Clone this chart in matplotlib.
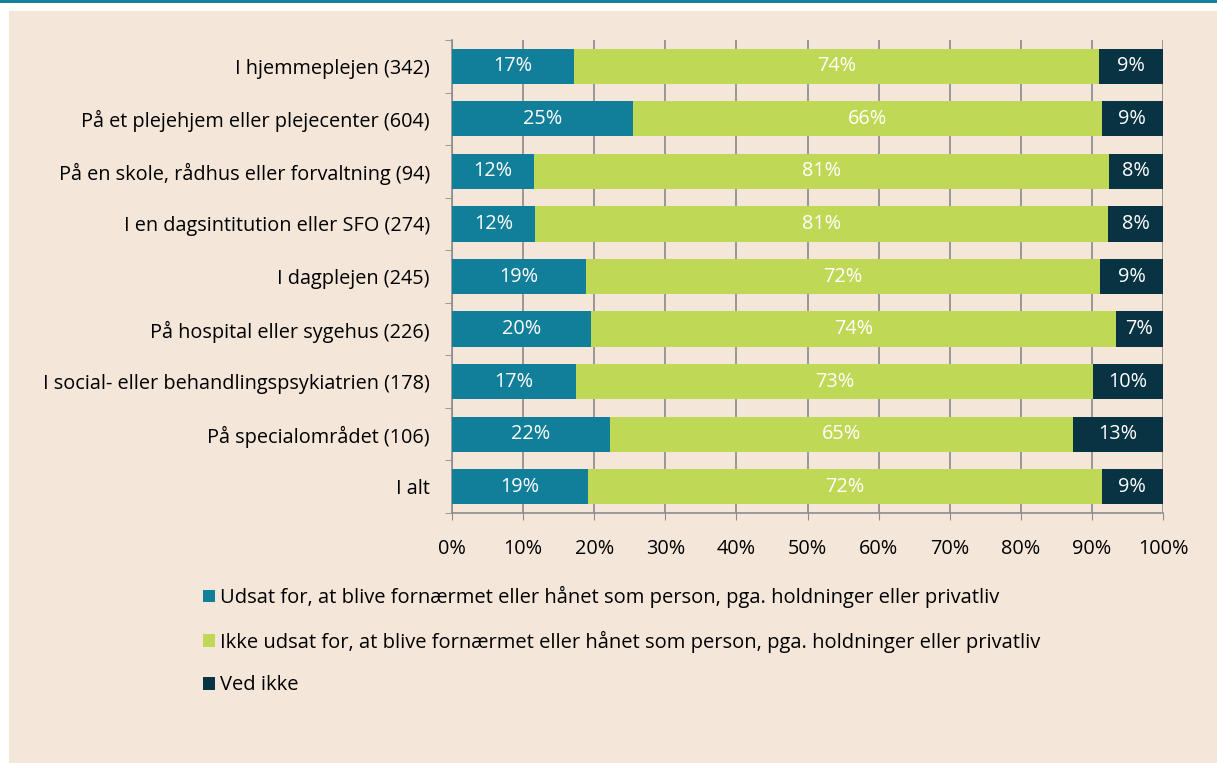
import matplotlib
matplotlib.use("Agg")
import numpy as np
from matplotlib import pyplot as plt
from matplotlib.patches import Rectangle

# Data (andele i procent)
kategorier = ["I hjemmeplejen (342)",
              "På et plejehjem eller plejecenter (604)",
              "På en skole, rådhus eller forvaltning (94)",
              "I en dagsintitution eller SFO (274)",
              "I dagplejen (245)",
              "På hospital eller sygehus (226)",
              "I social- eller behandlingspsykiatrien (178)",
              "På specialområdet (106)",
              "I alt"]
udsat = [17.2, 25.4, 11.5, 11.7, 18.8, 19.6, 17.4, 22.2, 19.1]
ikke_udsat = [73.8, 66.0, 80.9, 80.6, 72.4, 73.8, 72.8, 65.1, 72.3]
ved_ikke = [9.0, 8.6, 7.6, 7.7, 8.8, 6.6, 9.8, 12.7, 8.6]
serier = ["Udsat for, at blive fornærmet eller hånet som person, pga. holdninger eller privatliv",
          "Ikke udsat for, at blive fornærmet eller hånet som person, pga. holdninger eller privatliv",
          "Ved ikke"]
farver = ["#117e9a", "#bfd856", "#073343"]

plt.rcParams["font.family"] = ["Open Sans", "DejaVu Sans"]
fs = 14.3

baggrund = "#f4e7da"
fig = plt.figure(figsize=(12.17, 7.63), dpi=100)
fig.patch.set_facecolor("white")
# beige panel og streg i toppen
fig.patches.append(Rectangle((9/1217, 0), 1, 1 - 11/763, transform=fig.transFigure,
                             facecolor=baggrund, edgecolor="none", zorder=-5))
fig.patches.append(Rectangle((0, 1 - 3/763), 1, 3/763, transform=fig.transFigure,
                             facecolor="#16819b", edgecolor="none", zorder=-5))

ax = fig.add_axes([452/1217, 1 - 513/763, (1163-452)/1217, (513-40)/763])
ax.set_facecolor("none")
ax.set_zorder(2)

y = np.arange(len(kategorier))
venstre = np.zeros(len(kategorier))
for vals, farve, navn in zip([udsat, ikke_udsat, ved_ikke], farver, serier):
    vals = np.array(vals)
    ax.barh(y, vals, left=venstre, height=0.67, color=farve, label=navn, zorder=3)
    for yi, v, l in zip(y, vals, venstre):
        ax.text(l + v/2, yi, "%d%%" % round(v), ha="center", va="center",
                color="white", fontsize=fs, zorder=4)
    venstre += vals

ax.set_xlim(0, 100)
ax.set_ylim(len(kategorier) - 0.5, -0.5)
ax.set_xticks(np.arange(0, 101, 10))
ax.set_xticklabels(["%d%%" % t for t in range(0, 101, 10)], fontsize=fs)
ax.set_yticks(y)
ax.set_yticklabels(kategorier, fontsize=fs)
ax.set_yticks(np.arange(-0.5, len(kategorier)), minor=True)
ax.tick_params(axis="y", which="major", length=0, pad=16)
ax.tick_params(axis="y", which="minor", length=5, color="#8c8c8c")
ax.tick_params(axis="x", length=5, color="#8c8c8c", pad=14)
ax.xaxis.grid(True, color="#8a8a8a", linewidth=1.2, zorder=0)
for s in ["top", "right"]:
    ax.spines[s].set_visible(False)
for s in ["left", "bottom"]:
    ax.spines[s].set_color("#8c8c8c")
    ax.spines[s].set_linewidth(1.2)

fig.legend(loc="upper left", bbox_to_anchor=(203/1217, 1 - 586/763), frameon=False,
           fontsize=14.5, handlelength=0.6, handleheight=0.6, handletextpad=0.25,
           labelspacing=1.12, borderaxespad=0, borderpad=0)

plt.savefig("out.png", dpi=100, facecolor=fig.get_facecolor())
